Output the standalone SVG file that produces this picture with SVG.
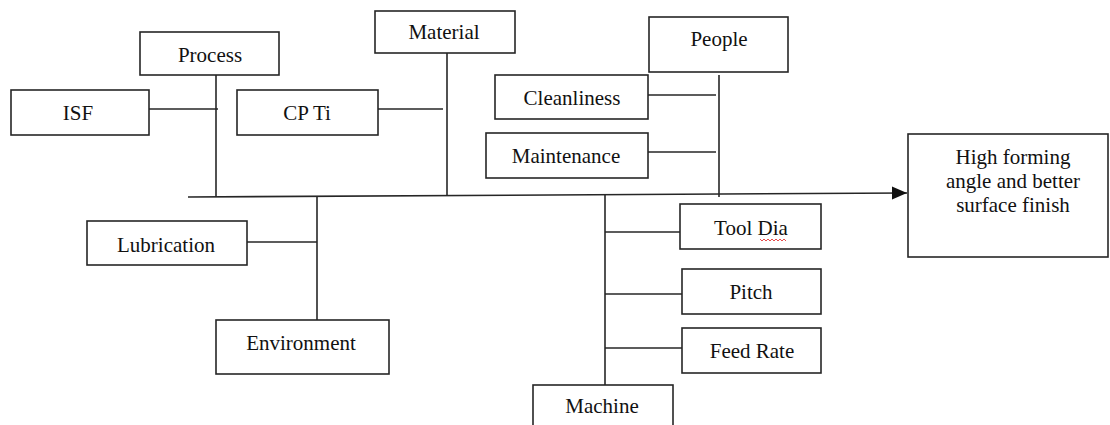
<svg xmlns="http://www.w3.org/2000/svg" width="1110" height="425" viewBox="0 0 1110 425">
<style>
.box{fill:#fff;stroke:#262626;stroke-width:1.6}
.ln{stroke:#262626;stroke-width:1.6;fill:none}
.t{font-family:"Liberation Serif","Times New Roman",serif;font-size:21px;fill:#111;text-anchor:middle}
</style>
<defs>
<marker id="arr" markerWidth="16" markerHeight="14" refX="15" refY="7" orient="auto" markerUnits="userSpaceOnUse">
<path d="M0,0.5 L15,7 L0,13.5 Z" fill="#111"/>
</marker>
</defs>
<rect width="1110" height="425" fill="#fff"/>
<g id="connectors">
<line class="ln" x1="188" y1="197" x2="907" y2="193" marker-end="url(#arr)"/>
<line class="ln" x1="216" y1="75" x2="216" y2="197"/>
<line class="ln" x1="149" y1="109" x2="218" y2="109"/>
<line class="ln" x1="447" y1="53" x2="447" y2="196"/>
<line class="ln" x1="378" y1="109" x2="443" y2="109"/>
<line class="ln" x1="719" y1="75" x2="719" y2="197"/>
<line class="ln" x1="648" y1="95" x2="716" y2="95"/>
<line class="ln" x1="648" y1="152" x2="716" y2="152"/>
<line class="ln" x1="317" y1="197" x2="317" y2="320"/>
<line class="ln" x1="247" y1="242" x2="317" y2="242"/>
<line class="ln" x1="605" y1="195" x2="605" y2="385"/>
<line class="ln" x1="605" y1="232" x2="682" y2="232"/>
<line class="ln" x1="605" y1="294" x2="682" y2="294"/>
<line class="ln" x1="605" y1="348" x2="682" y2="348"/>
</g>
<g id="process"><rect class="box" x="140" y="32" width="139" height="43"/><text class="t" x="210" y="62">Process</text></g>
<g id="isf"><rect class="box" x="11" y="90" width="138" height="45"/><text class="t" x="78" y="120">ISF</text></g>
<g id="cpti"><rect class="box" x="237" y="90" width="141" height="45"/><text class="t" x="307" y="120">CP Ti</text></g>
<g id="material"><rect class="box" x="375" y="11" width="140" height="42"/><text class="t" x="444" y="39">Material</text></g>
<g id="people"><rect class="box" x="649" y="17" width="139" height="55"/><text class="t" x="719" y="46">People</text></g>
<g id="cleanliness"><rect class="box" x="495" y="75" width="153" height="44"/><text class="t" x="572" y="105">Cleanliness</text></g>
<g id="maintenance"><rect class="box" x="486" y="133" width="162" height="45"/><text class="t" x="566" y="163">Maintenance</text></g>
<g id="result"><rect class="box" x="908" y="134" width="200" height="123"/>
<text class="t" x="1013" y="164">High forming</text>
<text class="t" x="1013" y="188">angle and better</text>
<text class="t" x="1013" y="212">surface finish</text></g>
<g id="lubrication"><rect class="box" x="87" y="221" width="160" height="44"/><text class="t" x="166" y="252">Lubrication</text></g>
<g id="environment"><rect class="box" x="216" y="320" width="173" height="54"/><text class="t" x="301" y="350">Environment</text></g>
<g id="tooldia"><rect class="box" x="680" y="204" width="141" height="45"/><text class="t" x="751" y="235">Tool Dia</text>
<path d="M760,239 l2,2 l2,-2 l2,2 l2,-2 l2,2 l2,-2 l2,2 l2,-2 l2,2 l2,-2 l2,2 l2,-2 l2,2" fill="none" stroke="#e02020" stroke-width="0.8"/></g>
<g id="pitch"><rect class="box" x="682" y="269" width="139" height="45"/><text class="t" x="751" y="299">Pitch</text></g>
<g id="feedrate"><rect class="box" x="682" y="328" width="139" height="45"/><text class="t" x="752" y="358">Feed Rate</text></g>
<g id="machine"><rect class="box" x="533" y="385" width="140" height="60"/><text class="t" x="602" y="413">Machine</text></g>
</svg>
